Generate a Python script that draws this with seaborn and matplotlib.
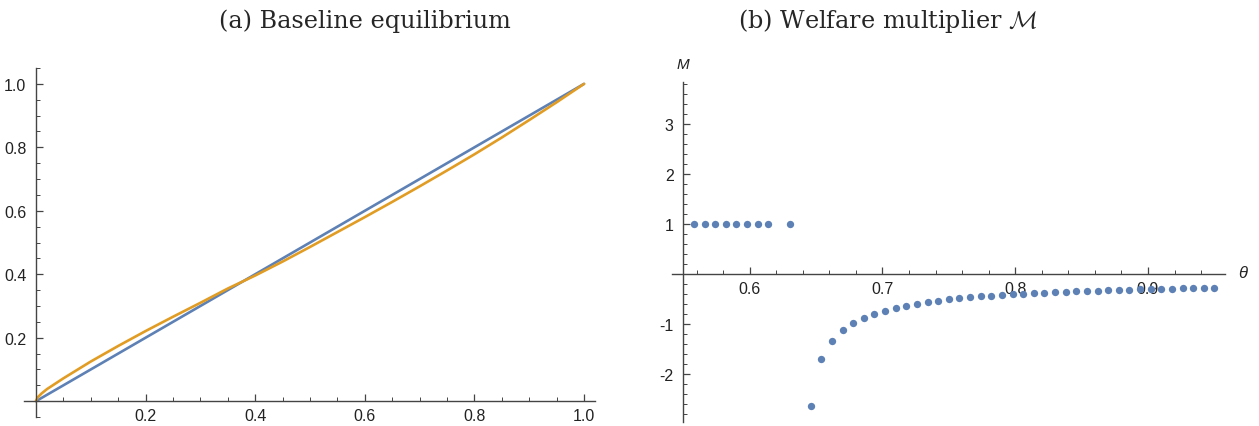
import matplotlib
matplotlib.use("Agg")
import matplotlib.pyplot as plt
from matplotlib.ticker import MultipleLocator, FixedLocator
import seaborn as sns
import pandas as pd

# ----------------------------
# Data
# ----------------------------
# (a) baseline equilibrium: 45-degree line and the equilibrium curve
diag_x = [0.0, 1.0]
diag_y = [0.0, 1.0]
curve_x = [0.0, 0.003, 0.01, 0.02, 0.05, 0.1, 0.15, 0.2, 0.25, 0.3, 0.35, 0.4,
           0.45, 0.5, 0.55, 0.6, 0.65, 0.7, 0.75, 0.8, 0.85, 0.9, 0.95, 1.0]
curve_y = [0.0, 0.012, 0.024, 0.038, 0.072, 0.125, 0.174, 0.221, 0.266, 0.310,
           0.355, 0.396, 0.440, 0.486, 0.533, 0.580, 0.628, 0.677, 0.727,
           0.778, 0.831, 0.886, 0.942, 1.0]

# (b) welfare multiplier M against theta
theta = [0.558, 0.566, 0.574, 0.582, 0.590, 0.598, 0.606, 0.614, 0.630,
         0.646, 0.654, 0.662, 0.670, 0.678, 0.686, 0.694, 0.702, 0.710,
         0.718, 0.726, 0.734, 0.742, 0.750, 0.758, 0.766, 0.774, 0.782,
         0.790, 0.798, 0.806, 0.814, 0.822, 0.830, 0.838, 0.846, 0.854,
         0.862, 0.870, 0.878, 0.886, 0.894, 0.902, 0.910, 0.918, 0.926,
         0.934, 0.942, 0.950]
mult = [1, 1, 1, 1, 1, 1, 1, 1, 1,
        -2.63, -1.70, -1.33, -1.12, -0.98, -0.87, -0.79, -0.73, -0.67,
        -0.63, -0.59, -0.56, -0.53, -0.50, -0.48, -0.46, -0.44, -0.43,
        -0.41, -0.40, -0.39, -0.38, -0.37, -0.36, -0.35, -0.34, -0.33,
        -0.33, -0.32, -0.31, -0.31, -0.30, -0.30, -0.29, -0.29, -0.28,
        -0.28, -0.27, -0.27]

BLUE = "#5E81B5"
ORANGE = "#E19C24"

sns.set_style("ticks")
plt.rcParams["font.family"] = ["Liberation Sans", "DejaVu Sans"]
plt.rcParams["mathtext.fontset"] = "cm"

fig = plt.figure(figsize=(12.59, 4.27), dpi=100)
ax1 = fig.add_axes([24 / 1259, 9 / 427, 571 / 1259, 349 / 427])
ax2 = fig.add_axes([672 / 1259, 4 / 427, 553 / 1259, 340 / 427])


def math_axes(ax, x0, y0):
    # Mathematica style: axes crossing at (x0, y0), inward ticks
    for s in ["top", "right"]:
        ax.spines[s].set_visible(False)
    ax.spines["left"].set_position(("data", x0))
    ax.spines["bottom"].set_position(("data", y0))
    for s in ["left", "bottom"]:
        ax.spines[s].set_color("#444444")
        ax.spines[s].set_linewidth(1.0)
    ax.tick_params(which="major", direction="in", length=5, width=0.9,
                   color="#444444", labelsize=11.5, labelcolor="#222222")
    ax.tick_params(which="minor", direction="in", length=3, width=0.7,
                   color="#444444")
    ax.tick_params(axis="x", pad=5)
    ax.tick_params(axis="y", pad=7)
    ax.set_xlabel("")
    ax.set_ylabel("")
    ax.patch.set_alpha(0)


# ----------------------------
# (a) Baseline equilibrium
# ----------------------------
df_a = pd.concat([
    pd.DataFrame({"x": diag_x, "y": diag_y, "s": "diag"}),
    pd.DataFrame({"x": curve_x, "y": curve_y, "s": "eq"}),
])
sns.lineplot(data=df_a, x="x", y="y", hue="s", palette=[BLUE, ORANGE],
             linewidth=1.9, legend=False, ax=ax1, sort=False)
ax1.set_xlim(-0.022, 1.02)
ax1.set_ylim(-0.05, 1.05)
math_axes(ax1, 0, 0)
ax1.xaxis.set_major_locator(FixedLocator([0.2, 0.4, 0.6, 0.8, 1.0]))
ax1.yaxis.set_major_locator(FixedLocator([0.2, 0.4, 0.6, 0.8, 1.0]))
ax1.xaxis.set_minor_locator(MultipleLocator(0.05))
ax1.yaxis.set_minor_locator(MultipleLocator(0.05))
ax1.set_xticklabels(["0.2", "0.4", "0.6", "0.8", "1.0"])
ax1.set_yticklabels(["0.2", "0.4", "0.6", "0.8", "1.0"])

# ----------------------------
# (b) Welfare multiplier
# ----------------------------
df_b = pd.DataFrame({"theta": theta, "M": mult})
sns.scatterplot(data=df_b, x="theta", y="M", color=BLUE, s=28,
                linewidth=0, ax=ax2)
ax2.set_xlim(0.5415, 0.958)
ax2.set_ylim(-2.96, 3.84)
math_axes(ax2, 0.55, 0)
ax2.xaxis.set_major_locator(FixedLocator([0.6, 0.7, 0.8, 0.9]))
ax2.xaxis.set_minor_locator(MultipleLocator(0.02))
ax2.yaxis.set_major_locator(FixedLocator([-2, -1, 1, 2, 3]))
ax2.yaxis.set_minor_locator(MultipleLocator(0.2))
ax2.set_xticklabels(["0.6", "0.7", "0.8", "0.9"])
ax2.set_yticklabels(["-2", "-1", "1", "2", "3"])
ax2.text(0.55, 4.2, "M", style="italic", fontsize=11, ha="center",
         va="center", color="#222222", clip_on=False)
ax2.text(0.9715, 0.04, "\u03b8", style="italic", fontsize=12, ha="center",
         va="center", color="#222222", clip_on=False)

# titles
fig.text(365 / 1259, 1 - 21 / 427, "(a) Baseline equilibrium",
         family="DejaVu Serif", fontsize=17.2, ha="center", va="center")
fig.text(888 / 1259, 1 - 21 / 427, r"(b) Welfare multiplier $\mathcal{M}$",
         family="DejaVu Serif", fontsize=17.2, ha="center", va="center")

fig.savefig("out.png", dpi=100)
